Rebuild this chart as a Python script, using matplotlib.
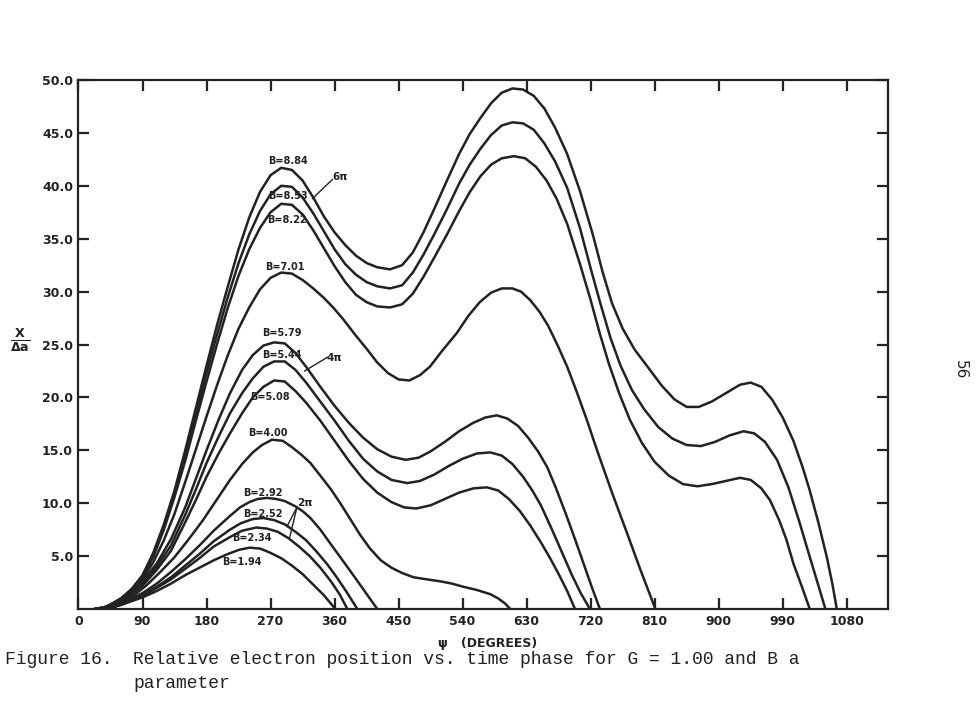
import matplotlib
matplotlib.use("Agg")
import matplotlib.pyplot as plt

# ---------------- data ----------------
b_values = ["8.84", "8.53", "8.22", "7.01", "5.79", "5.44", "5.08", "4.00", "2.92", "2.52", "2.34", "1.94"]

phase_884 = [22, 40, 60, 75, 90, 105, 120, 135, 150, 165, 180, 195, 210, 225, 240, 255, 270, 285, 300, 315, 330, 345, 360, 375, 390, 405, 420, 438, 455, 470, 485, 500, 518, 535, 550, 565, 580, 595, 610, 625, 640, 655, 670, 687, 705, 723, 737, 750, 765, 782, 800, 820, 838, 855, 872, 890, 910, 930, 945, 960, 975, 990, 1005, 1018, 1028, 1040, 1052, 1060, 1066]
x_884 = [0, 0.2, 1.0, 1.9, 3.2, 5.3, 8.0, 11.2, 15.0, 19.0, 23.0, 26.9, 30.5, 34.0, 37.0, 39.4, 41.0, 41.7, 41.5, 40.5, 38.9, 37.1, 35.6, 34.4, 33.4, 32.7, 32.3, 32.1, 32.5, 33.7, 35.6, 37.8, 40.5, 43.0, 44.9, 46.4, 47.8, 48.8, 49.2, 49.1, 48.5, 47.3, 45.5, 43.0, 39.5, 35.4, 31.8, 28.9, 26.5, 24.5, 22.9, 21.1, 19.8, 19.1, 19.1, 19.6, 20.4, 21.2, 21.4, 21.0, 19.8, 18.1, 15.9, 13.4, 11.2, 8.2, 4.9, 2.3, 0]

phase_853 = [22, 40, 60, 75, 90, 105, 120, 135, 150, 165, 180, 195, 210, 225, 240, 255, 270, 285, 300, 315, 330, 345, 360, 375, 390, 405, 420, 438, 455, 470, 485, 500, 518, 535, 550, 565, 580, 595, 610, 625, 640, 655, 670, 687, 705, 720, 734, 748, 762, 778, 795, 815, 835, 855, 875, 895, 915, 935, 950, 965, 982, 998, 1014, 1025, 1038, 1050]
x_853 = [0, 0.2, 1.0, 1.9, 3.1, 5.1, 7.8, 11.0, 14.6, 18.5, 22.3, 26.0, 29.5, 32.7, 35.4, 37.6, 39.2, 40.0, 39.9, 38.9, 37.4, 35.7, 34.0, 32.6, 31.6, 30.9, 30.5, 30.3, 30.6, 31.8, 33.5, 35.4, 37.8, 40.2, 42.0, 43.5, 44.8, 45.7, 46.0, 45.9, 45.3, 44.0, 42.3, 39.8, 36.0, 32.2, 28.8, 25.6, 23.0, 20.7, 18.9, 17.2, 16.1, 15.5, 15.4, 15.8, 16.4, 16.8, 16.6, 15.8, 14.1, 11.5, 8.1, 5.6, 2.7, 0]

phase_822 = [22, 40, 60, 75, 90, 105, 120, 135, 150, 165, 180, 195, 210, 225, 240, 255, 270, 285, 300, 315, 330, 345, 360, 375, 390, 405, 420, 438, 455, 470, 485, 500, 518, 535, 550, 565, 580, 595, 612, 628, 643, 658, 672, 687, 705, 720, 733, 746, 760, 775, 792, 810, 830, 850, 870, 890, 910, 930, 945, 960, 972, 985, 995, 1005, 1017, 1028]
x_822 = [0, 0.2, 1.0, 1.8, 3.0, 4.9, 7.5, 10.6, 14.0, 17.8, 21.5, 25.1, 28.5, 31.5, 34.0, 36.0, 37.5, 38.3, 38.2, 37.3, 35.8, 34.1, 32.4, 30.9, 29.7, 29.0, 28.6, 28.5, 28.8, 29.8, 31.4, 33.2, 35.4, 37.6, 39.4, 40.9, 42.0, 42.6, 42.8, 42.6, 41.8, 40.5, 38.8, 36.4, 32.6, 29.2, 26.0, 23.1, 20.4, 17.9, 15.7, 13.9, 12.6, 11.8, 11.6, 11.8, 12.1, 12.4, 12.2, 11.4, 10.3, 8.4, 6.6, 4.3, 2.1, 0]

phase_701 = [25, 40, 60, 75, 90, 105, 120, 135, 150, 166, 180, 195, 210, 225, 240, 255, 270, 285, 300, 315, 330, 345, 358, 372, 388, 405, 420, 435, 450, 465, 480, 494, 510, 532, 548, 564, 580, 595, 610, 622, 635, 648, 660, 673, 687, 700, 715, 729, 750, 771, 790, 811]
x_701 = [0, 0.2, 0.9, 1.7, 2.8, 4.4, 6.5, 9.0, 12.0, 15.3, 18.2, 21.2, 24.0, 26.5, 28.5, 30.2, 31.3, 31.8, 31.7, 31.1, 30.3, 29.4, 28.5, 27.4, 26.0, 24.6, 23.3, 22.3, 21.7, 21.6, 22.1, 22.9, 24.3, 26.1, 27.7, 29.0, 29.9, 30.3, 30.3, 30.0, 29.2, 28.1, 26.8, 25.0, 22.9, 20.6, 17.8, 15.0, 11.0, 7.2, 3.7, 0]

phase_579 = [30, 45, 60, 75, 90, 110, 130, 150, 165, 180, 197, 213, 230, 245, 260, 275, 290, 305, 321, 340, 360, 380, 400, 420, 440, 460, 478, 495, 515, 535, 555, 572, 588, 603, 618, 632, 646, 659, 672, 685, 698, 710, 722, 733]
x_579 = [0, 0.4, 1.0, 1.7, 2.6, 4.3, 6.6, 9.6, 12.3, 15.0, 17.9, 20.4, 22.6, 24.0, 24.9, 25.2, 25.1, 24.2, 22.8, 21.0, 19.2, 17.6, 16.2, 15.1, 14.4, 14.1, 14.3, 14.9, 15.8, 16.8, 17.6, 18.1, 18.3, 18.0, 17.3, 16.2, 14.9, 13.4, 11.3, 9.0, 6.6, 4.3, 2.0, 0]

phase_544 = [30, 45, 60, 75, 90, 110, 130, 150, 165, 180, 197, 213, 230, 245, 260, 275, 290, 305, 320, 340, 360, 380, 400, 420, 440, 462, 480, 500, 520, 540, 560, 579, 595, 610, 625, 638, 650, 665, 680, 693, 706, 719]
x_544 = [0, 0.4, 0.9, 1.6, 2.4, 4.0, 6.0, 8.9, 11.3, 13.8, 16.3, 18.5, 20.4, 21.8, 22.9, 23.4, 23.4, 22.6, 21.4, 19.6, 17.8, 15.9, 14.2, 13.0, 12.2, 11.9, 12.1, 12.7, 13.5, 14.2, 14.7, 14.8, 14.5, 13.7, 12.5, 11.2, 9.8, 7.6, 5.3, 3.3, 1.5, 0]

phase_508 = [30, 45, 60, 75, 90, 110, 130, 150, 165, 180, 197, 213, 230, 245, 260, 275, 290, 305, 320, 340, 360, 380, 400, 420, 440, 458, 475, 495, 515, 535, 555, 574, 590, 605, 620, 635, 650, 663, 675, 687, 698]
x_508 = [0, 0.3, 0.8, 1.4, 2.2, 3.7, 5.5, 8.2, 10.3, 12.5, 14.7, 16.6, 18.5, 20.0, 21.0, 21.6, 21.5, 20.6, 19.5, 17.8, 15.9, 14.0, 12.3, 11.0, 10.1, 9.6, 9.5, 9.8, 10.4, 11.0, 11.4, 11.5, 11.2, 10.4, 9.3, 7.9, 6.3, 4.8, 3.3, 1.7, 0]

phase_400 = [35, 50, 65, 80, 95, 115, 135, 155, 175, 195, 213, 230, 245, 258, 272, 287, 300, 313, 326, 340, 355, 368, 382, 396, 410, 425, 440, 455, 471, 490, 510, 525, 541, 560, 579, 590, 600, 607]
x_400 = [0, 0.3, 0.8, 1.4, 2.2, 3.5, 4.9, 6.6, 8.4, 10.4, 12.2, 13.7, 14.8, 15.5, 16.0, 15.9, 15.3, 14.6, 13.8, 12.6, 11.3, 10.0, 8.5, 7.0, 5.7, 4.6, 3.9, 3.4, 3.0, 2.8, 2.6, 2.4, 2.1, 1.8, 1.4, 1.0, 0.5, 0]

phase_292 = [40, 60, 75, 90, 110, 130, 150, 170, 190, 213, 227, 240, 252, 265, 278, 290, 305, 316, 326, 340, 355, 368, 382, 400, 420]
x_292 = [0, 0.5, 1.0, 1.5, 2.4, 3.5, 4.7, 6.0, 7.4, 8.8, 9.6, 10.1, 10.4, 10.5, 10.4, 10.2, 9.7, 9.2, 8.6, 7.5, 6.1, 4.9, 3.6, 1.9, 0]

phase_252 = [40, 60, 75, 90, 110, 130, 150, 170, 190, 213, 228, 245, 260, 275, 290, 305, 320, 335, 350, 363, 377, 392]
x_252 = [0, 0.45, 0.85, 1.3, 2.1, 3.0, 4.1, 5.2, 6.4, 7.5, 8.1, 8.5, 8.6, 8.4, 8.0, 7.3, 6.5, 5.4, 4.2, 3.0, 1.6, 0]

phase_234 = [40, 60, 75, 90, 110, 130, 150, 170, 190, 213, 230, 250, 265, 280, 295, 310, 325, 340, 355, 367, 378]
x_234 = [0, 0.4, 0.8, 1.2, 2.0, 2.8, 3.8, 4.8, 5.9, 6.8, 7.4, 7.7, 7.6, 7.3, 6.7, 5.9, 5.0, 3.9, 2.6, 1.4, 0]

phase_194 = [40, 60, 75, 90, 110, 130, 150, 170, 190, 210, 226, 241, 256, 270, 285, 300, 315, 330, 345, 361]
x_194 = [0, 0.4, 0.75, 1.1, 1.7, 2.4, 3.2, 3.9, 4.6, 5.2, 5.6, 5.8, 5.7, 5.3, 4.8, 4.1, 3.3, 2.3, 1.3, 0]

x_ticks = [0, 90, 180, 270, 360, 450, 540, 630, 720, 810, 900, 990, 1080]
y_ticks = [5, 10, 15, 20, 25, 30, 35, 40, 45, 50]
y_ticklabels = ["5.0", "10.0", "15.0", "20.0", "25.0", "30.0", "35.0", "40.0", "45.0", "50.0"]

curves = [
    (phase_884, x_884), (phase_853, x_853), (phase_822, x_822), (phase_701, x_701),
    (phase_579, x_579), (phase_544, x_544), (phase_508, x_508), (phase_400, x_400),
    (phase_292, x_292), (phase_252, x_252), (phase_234, x_234), (phase_194, x_194),
]

# label anchor points (data coords)
label_pos = [(295, 42.3), (295, 39.0), (293, 36.8), (290, 32.3), (286, 26.1), (286, 24.0),
             (269, 20.0), (266, 16.6), (259, 11.0), (259, 9.0), (244, 6.7), (230, 4.4)]

# ---------------- figure ----------------
W, H = 978, 701
fig = plt.figure(figsize=(W / 100, H / 100), dpi=100)
fig.patch.set_facecolor("white")
ax = fig.add_axes([78.5 / W, 1 - 609 / H, (888 - 78.5) / W, (609 - 80) / H])

ink = "#222222"
for ph, xv in curves:
    ax.plot(ph, xv, color=ink, lw=1.8, solid_capstyle="round", solid_joinstyle="round")

ax.set_xlim(0, 1138)
ax.set_ylim(0, 50)
ax.set_xticks(x_ticks)
ax.set_xticklabels([str(v) for v in x_ticks])
ax.set_yticks(y_ticks)
ax.set_yticklabels(y_ticklabels)
ax.tick_params(direction="in", length=8, width=1.6, color=ink, top=True, right=True,
               labelsize=9, labelcolor=ink, pad=4)
for lab in ax.get_xticklabels() + ax.get_yticklabels():
    lab.set_fontweight("bold")
for sp in ax.spines.values():
    sp.set_linewidth(1.6)
    sp.set_color(ink)

for txt, (lx, ly) in zip(b_values, label_pos):
    ax.text(lx, ly, "B=" + txt, fontsize=7, fontweight="bold", color=ink,
            ha="center", va="center")

# n-pi markers with leader lines
ax.text(368, 40.8, "6π", fontsize=7.5, fontweight="bold", color=ink, ha="center", va="center")
ax.plot([357, 329], [40.6, 38.8], color=ink, lw=1.0)
ax.text(360, 23.7, "4π", fontsize=7.5, fontweight="bold", color=ink, ha="center", va="center")
ax.plot([350, 318], [23.8, 22.5], color=ink, lw=1.0)
ax.text(318, 10.0, "2π", fontsize=7.5, fontweight="bold", color=ink, ha="center", va="center")
ax.plot([307, 293], [9.6, 7.8], color=ink, lw=1.0)
ax.plot([307, 297], [9.6, 6.8], color=ink, lw=1.0)

# axis labels
fig.text(20 / W, 1 - 340 / H, r"$\mathbf{\frac{X}{\Delta a}}$", fontsize=13, ha="center",
         va="center", color=ink)
fig.text(438 / W, 1 - 643 / H, "ψ   (DEGREES)", fontsize=9, fontweight="bold", ha="left",
         va="center", color=ink)

# caption
fig.text(5 / W, 1 - 660 / H, "Figure 16.", family="Liberation Mono", fontsize=13,
         ha="left", va="center", color=ink)
fig.text(133 / W, 1 - 660 / H,
         "Relative electron position vs. time phase for G = 1.00 and B a",
         family="Liberation Mono", fontsize=13, ha="left", va="center", color=ink)
fig.text(133 / W, 1 - 683 / H, "parameter", family="Liberation Mono", fontsize=13,
         ha="left", va="center", color=ink)

# page number
fig.text(960 / W, 1 - 370 / H, "56", fontsize=11, rotation=-90, ha="center", va="center",
         color=ink)

fig.savefig("out.png", dpi=100, facecolor="white")
